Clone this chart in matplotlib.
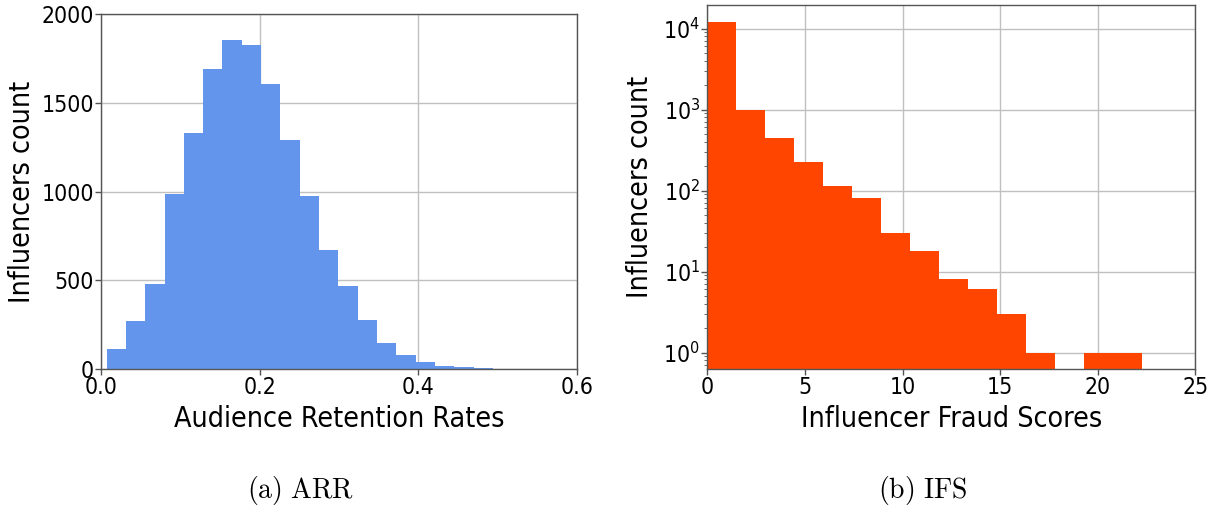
import numpy as np
import matplotlib
matplotlib.use("Agg")
import matplotlib.pyplot as plt

# Audience retention rate histogram (21 equal-width bins)
arr_range = (0.0071, 0.5181)
arr_counts = [115, 274, 481, 988, 1330, 1690, 1853, 1823, 1604, 1290, 977,
              670, 469, 276, 146, 79, 39, 19, 12, 5, 3]

# Influencer fraud score histogram (15 equal-width bins, log scale)
ifs_range = (0.0, 22.25)
ifs_counts = [12090, 1000, 451, 228, 115, 80, 30, 18, 8, 6, 3, 1, 0, 1, 1]

arr_xticks = [0.0, 0.2, 0.4, 0.6]
arr_yticks = [0, 500, 1000, 1500, 2000]
ifs_xticks = [0, 5, 10, 15, 20, 25]

plt.rcParams["font.family"] = ["DejaVu Sans"]
plt.rcParams["font.stretch"] = "condensed"
plt.rcParams["mathtext.fontset"] = "dejavusans"

fig = plt.figure(figsize=(12.28, 5.2), dpi=100)

tick_fs = 16.5
label_fs = 20.5
spine_col = "#555555"


def style(ax):
    ax.grid(True, color="#c0c0c0", linewidth=1.0)
    ax.set_axisbelow(True)
    for s in ax.spines.values():
        s.set_color(spine_col)
        s.set_linewidth(1.0)
    ax.tick_params(axis="both", labelsize=tick_fs, color=spine_col,
                   length=4, width=1.0, pad=1.2)


# (a) ARR
ax1 = fig.add_axes([0.0822, 0.290, 0.3878, 0.683])
edges1 = np.linspace(arr_range[0], arr_range[1], len(arr_counts) + 1)
centers1 = (edges1[:-1] + edges1[1:]) / 2
ax1.hist(centers1, bins=edges1, weights=arr_counts, color="cornflowerblue")
ax1.set_xlim(0, 0.6)
ax1.set_ylim(0, 2000)
ax1.set_xticks(arr_xticks)
ax1.set_xticklabels([f"{v:.1f}" for v in arr_xticks])
ax1.set_yticks(arr_yticks)
style(ax1)
ax1.set_xlabel("Audience Retention Rates", fontsize=label_fs, labelpad=4)
ax1.set_ylabel("Influencers count", fontsize=label_fs, labelpad=4)

# (b) IFS
ax2 = fig.add_axes([0.5760, 0.290, 0.3974, 0.700])
edges2 = np.linspace(ifs_range[0], ifs_range[1], len(ifs_counts) + 1)
centers2 = (edges2[:-1] + edges2[1:]) / 2
ax2.hist(centers2, bins=edges2, weights=ifs_counts, color="orangered", log=True)
ax2.set_xlim(0, 25)
ax2.set_ylim(10 ** -0.206, 10 ** 4.288)
ax2.set_xticks(ifs_xticks)
style(ax2)
ax2.tick_params(axis="y", which="minor", color=spine_col, length=2.5)
ax2.set_xlabel("Influencer Fraud Scores", fontsize=label_fs, labelpad=4)
ax2.set_ylabel("Influencers count", fontsize=label_fs, labelpad=7)

# Sub-figure captions in Computer Modern
cap_kw = dict(fontsize=20, ha="center", va="center")
fig.text(0.2445, 0.056, r"$\mathrm{(a)\ ARR}$", math_fontfamily="cm", **cap_kw)
fig.text(0.751, 0.056, r"$\mathrm{(b)\ IFS}$", math_fontfamily="cm", **cap_kw)

fig.savefig("out.png", dpi=100)
